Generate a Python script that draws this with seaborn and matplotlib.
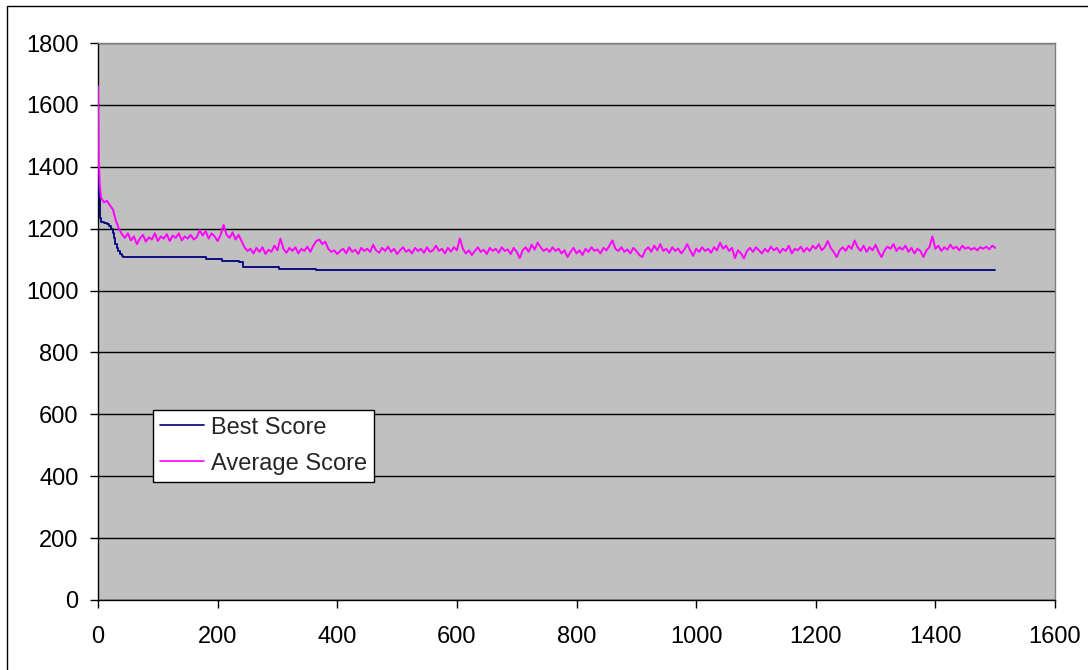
import numpy as np
import pandas as pd
import matplotlib
matplotlib.use("Agg")
import matplotlib.pyplot as plt
from matplotlib.patches import Rectangle
import seaborn as sns

# Best score: iteration where a new level starts, and that level
best_iter = [0, 1, 2, 3, 4, 5, 10, 15, 19, 22, 25, 27, 29, 31, 33, 36, 40, 42,
             181, 208, 236, 242, 303, 365, 1500]
best_score = [1375, 1340, 1300, 1260, 1235, 1221, 1218, 1214, 1210, 1200, 1187,
              1170, 1150, 1138, 1128, 1118, 1111, 1108, 1103, 1096, 1092, 1075,
              1070, 1066, 1066]

# Average score of the population, sampled along the run
avg_iter = [0, 1, 2, 3, 4] + list(range(5, 1501, 5))
avg_score = [
    1660, 1420, 1390, 1340, 1320,
    1300, 1285, 1290, 1275, 1262, 1225, 1200, 1182, 1170, 1185,
    1162, 1175, 1150, 1168, 1180, 1158, 1172, 1165, 1185, 1160,
    1175, 1168, 1182, 1160, 1178, 1170, 1185, 1162, 1175, 1168,
    1180, 1165, 1172, 1195, 1178, 1192, 1168, 1185, 1175, 1160,
    1180, 1212, 1180, 1170, 1188, 1165, 1180, 1160, 1140, 1128,
    1135, 1120, 1138, 1125, 1140, 1118, 1132, 1125, 1145, 1130,
    1168, 1135, 1122, 1138, 1128, 1140, 1120, 1135, 1128, 1142,
    1125, 1145, 1160, 1165, 1150, 1158, 1135, 1125, 1130, 1118,
    1128, 1135, 1120, 1140, 1125, 1132, 1118, 1138, 1128, 1135,
    1125, 1148, 1130, 1122, 1138, 1128, 1142, 1125, 1135, 1118,
    1130, 1140, 1125, 1132, 1120, 1138, 1128, 1135, 1122, 1140,
    1125, 1130, 1145, 1128, 1135, 1120, 1138, 1126, 1140, 1130,
    1168, 1135, 1120, 1130, 1115, 1128, 1140, 1125, 1132, 1118,
    1138, 1128, 1135, 1122, 1140, 1128, 1133, 1118, 1138, 1125,
    1105, 1130, 1140, 1125, 1148, 1132, 1155, 1140, 1128, 1135,
    1125, 1140, 1128, 1135, 1120, 1130, 1108, 1125, 1138, 1120,
    1130, 1115, 1135, 1125, 1140, 1128, 1133, 1120, 1138, 1130,
    1145, 1162, 1135, 1128, 1140, 1125, 1133, 1120, 1138, 1128,
    1115, 1108, 1130, 1140, 1125, 1145, 1130, 1150, 1128, 1135,
    1122, 1140, 1128, 1136, 1120, 1132, 1150, 1130, 1112, 1135,
    1125, 1140, 1128, 1135, 1122, 1140, 1130, 1155, 1135, 1145,
    1128, 1138, 1105, 1130, 1120, 1104, 1128, 1138, 1125, 1140,
    1130, 1120, 1135, 1125, 1142, 1130, 1138, 1122, 1135, 1128,
    1145, 1120, 1135, 1130, 1142, 1125, 1138, 1128, 1145, 1135,
    1150, 1130, 1140, 1160, 1138, 1125, 1108, 1130, 1140, 1128,
    1145, 1135, 1162, 1140, 1128, 1145, 1125, 1140, 1130, 1148,
    1125, 1108, 1130, 1142, 1135, 1150, 1128, 1140, 1132, 1145,
    1125, 1138, 1120, 1135, 1128, 1108, 1130, 1140, 1175, 1135,
    1145, 1128, 1140, 1132, 1148, 1135, 1142, 1130, 1145, 1135,
    1140, 1132, 1138, 1130, 1140, 1135, 1142, 1133, 1145, 1138,
]

x_ticks = [0, 200, 400, 600, 800, 1000, 1200, 1400, 1600]
y_ticks = [0, 200, 400, 600, 800, 1000, 1200, 1400, 1600, 1800]

best_df = pd.DataFrame({"Iteration": best_iter, "Score": best_score})
avg_df = pd.DataFrame({"Iteration": avg_iter, "Score": avg_score})

sns.set_style("white", {
    "axes.facecolor": "#C0C0C0",
    "grid.color": "black",
})
plt.rcParams["font.family"] = ["Liberation Sans", "DejaVu Sans"]

fig = plt.figure(figsize=(10.88, 6.70), dpi=100)
ax = fig.add_axes([98 / 1088, 1 - 600 / 670, 957 / 1088, 557 / 670])

sns.lineplot(data=best_df, x="Iteration", y="Score", ax=ax, color="#000080",
             linewidth=1.3, drawstyle="steps-post", label="Best Score",
             zorder=3)
sns.lineplot(data=avg_df, x="Iteration", y="Score", ax=ax, color="#FF00FF",
             linewidth=1.4, label="Average Score", zorder=3)

ax.set_xlim(0, 1600)
ax.set_ylim(0, 1800)
ax.set_xticks(x_ticks)
ax.set_yticks(y_ticks)
ax.set_xlabel("")
ax.set_ylabel("")
ax.yaxis.grid(True, color="black", linewidth=1.0)
ax.xaxis.grid(False)
ax.set_axisbelow(True)

ax.tick_params(axis="both", which="major", direction="out", length=6,
               width=1, color="black", labelsize=17, labelcolor="black")
ax.tick_params(axis="x", pad=13)
ax.tick_params(axis="y", pad=8)
ax.tick_params(left=True, bottom=True)

for side in ("left", "bottom"):
    ax.spines[side].set_color("black")
    ax.spines[side].set_linewidth(1.0)
for side in ("top", "right"):
    ax.spines[side].set_visible(True)
    ax.spines[side].set_color("#808080")
    ax.spines[side].set_linewidth(1.0)

leg = ax.legend(loc="upper left", bbox_to_anchor=(0.057, 0.342),
                borderaxespad=0, frameon=True, fancybox=False, fontsize=17,
                handlelength=1.86, handletextpad=0.3, borderpad=0.3,
                labelspacing=0.6)
frame = leg.get_frame()
frame.set_edgecolor("black")
frame.set_facecolor("white")
frame.set_alpha(1.0)
frame.set_linewidth(1.0)
for line in leg.get_lines():
    line.set_linewidth(1.2)

# Chart border
fig.patches.append(Rectangle((6.5 / 1088, -0.05), 1.2, 1 - 5.5 / 670 + 0.05,
                             transform=fig.transFigure, fill=False,
                             edgecolor="black", linewidth=1.0, zorder=0))

fig.savefig("out.png", dpi=100, facecolor="white")
